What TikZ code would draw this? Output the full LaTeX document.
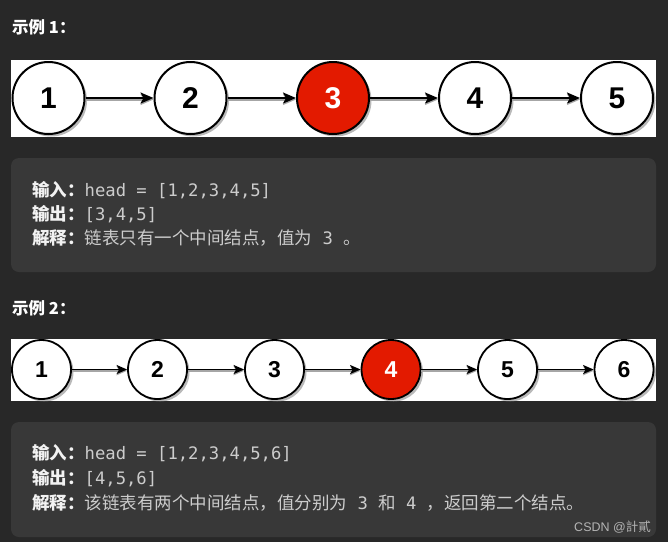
\documentclass[tikz,border=0pt]{standalone}
\usepackage{fontspec}
\setmainfont{Liberation Sans}
\newfontfamily\cjk{Noto Sans CJK SC}
\newfontfamily\mono{DejaVu Sans Mono}
\usetikzlibrary{arrows.meta,shadows}
\definecolor{bg}{HTML}{282828}
\definecolor{boxbg}{HTML}{383838}
\definecolor{lab}{HTML}{F2F2F2}
\definecolor{val}{HTML}{CCCCCC}
\definecolor{hot}{HTML}{E31A00}
\definecolor{wm}{HTML}{B4B4B4}
\tikzset{
  listnode/.style={circle, draw=black, line width=2pt, fill=white, inner sep=0pt,
    drop shadow={shadow xshift=2.5pt, shadow yshift=-2.5pt, fill=black!50, opacity=0.55}},
  bignode/.style={listnode, minimum size=72pt, font=\fontsize{30}{30}\selectfont\bfseries},
  smallnode/.style={listnode, minimum size=59pt, line width=1.8pt, font=\fontsize{23}{23}\selectfont\bfseries},
  hotnode/.style={fill=hot, text=white},
  biglink/.style={-{Stealth[length=13pt,width=11pt,inset=3pt]}, line width=2pt,
    preaction={draw=black!35, line width=2pt, transform canvas={yshift=-1.5pt}}},
  smalllink/.style={-{Stealth[length=10.5pt,width=9pt,inset=2.5pt]}, line width=1.7pt,
    preaction={draw=black!35, line width=1.7pt, transform canvas={yshift=-1.3pt}}},
  panel/.style={fill=boxbg, rounded corners=8pt, draw=none},
  strip/.style={fill=white, draw=none},
  heading/.style={anchor=base west, inner sep=0pt, text=white, font=\cjk\bfseries\fontsize{16.5}{20}\selectfont},
  txtline/.style={anchor=base west, inner sep=0pt, text=val, font=\fontsize{17.5}{20}\selectfont},
  watermark/.style={anchor=base east, inner sep=0pt, text=wm, font=\fontsize{12.5}{14}\selectfont}
}
\newcommand{\lbl}[1]{{\cjk\bfseries\color{lab}#1}}
\newcommand{\code}{\mono\fontsize{17.2}{20}\selectfont}
\begin{document}
\begin{tikzpicture}[x=1pt,y=-1pt]
\useasboundingbox (0,0) rectangle (668,542);
\fill[bg] (0,0) rectangle (668,542);

% Example 1
\node[heading] (h1) at (12,33) {示例 1：};
\fill[strip] (11,60) rectangle (656,137);
\node[bignode] (a1) at (48.5,98) {1};
\node[bignode] (a2) at (190.5,98) {2};
\node[bignode,hotnode] (a3) at (333,98) {3};
\node[bignode] (a4) at (475,98) {4};
\node[bignode] (a5) at (617,98) {5};
\draw[biglink] (a1) -- (a2);
\draw[biglink] (a2) -- (a3);
\draw[biglink] (a3) -- (a4);
\draw[biglink] (a4) -- (a5);

\fill[panel] (11,158) rectangle (656,272);
\node[txtline] (in1) at (32,196) {\lbl{输入：}{\code head = [1,2,3,4,5]}};
\node[txtline] (out1) at (32,220) {\lbl{输出：}{\code [3,4,5]}};
\node[txtline] (ex1) at (32,244) {\lbl{解释：}{\cjk 链表只有一个中间结点，值为}{\code\ 3\ }{\cjk 。}};

% Example 2
\node[heading] (h2) at (12,314) {示例 2：};
\fill[strip] (11,339) rectangle (656,401);
\node[smallnode] (b1) at (41.5,369.5) {1};
\node[smallnode] (b2) at (157.5,369.5) {2};
\node[smallnode] (b3) at (274.5,369.5) {3};
\node[smallnode,hotnode] (b4) at (391,369.5) {4};
\node[smallnode] (b5) at (507.5,369.5) {5};
\node[smallnode] (b6) at (624,369.5) {6};
\draw[smalllink] (b1) -- (b2);
\draw[smalllink] (b2) -- (b3);
\draw[smalllink] (b3) -- (b4);
\draw[smalllink] (b4) -- (b5);
\draw[smalllink] (b5) -- (b6);

\fill[panel] (11,422) rectangle (656,537);
\node[txtline] (in2) at (32,459) {\lbl{输入：}{\code head = [1,2,3,4,5,6]}};
\node[txtline] (out2) at (32,484) {\lbl{输出：}{\code [4,5,6]}};
\node[txtline] (ex2) at (32,509) {\lbl{解释：}{\cjk 该链表有两个中间结点，值分别为}{\code\ 3\ }{\cjk 和}{\code\ 4\ }{\cjk ，返回第二个结点。}};
\node[watermark] (wm) at (651,531) {CSDN @{\cjk 計貳}};
\end{tikzpicture}
\end{document}
